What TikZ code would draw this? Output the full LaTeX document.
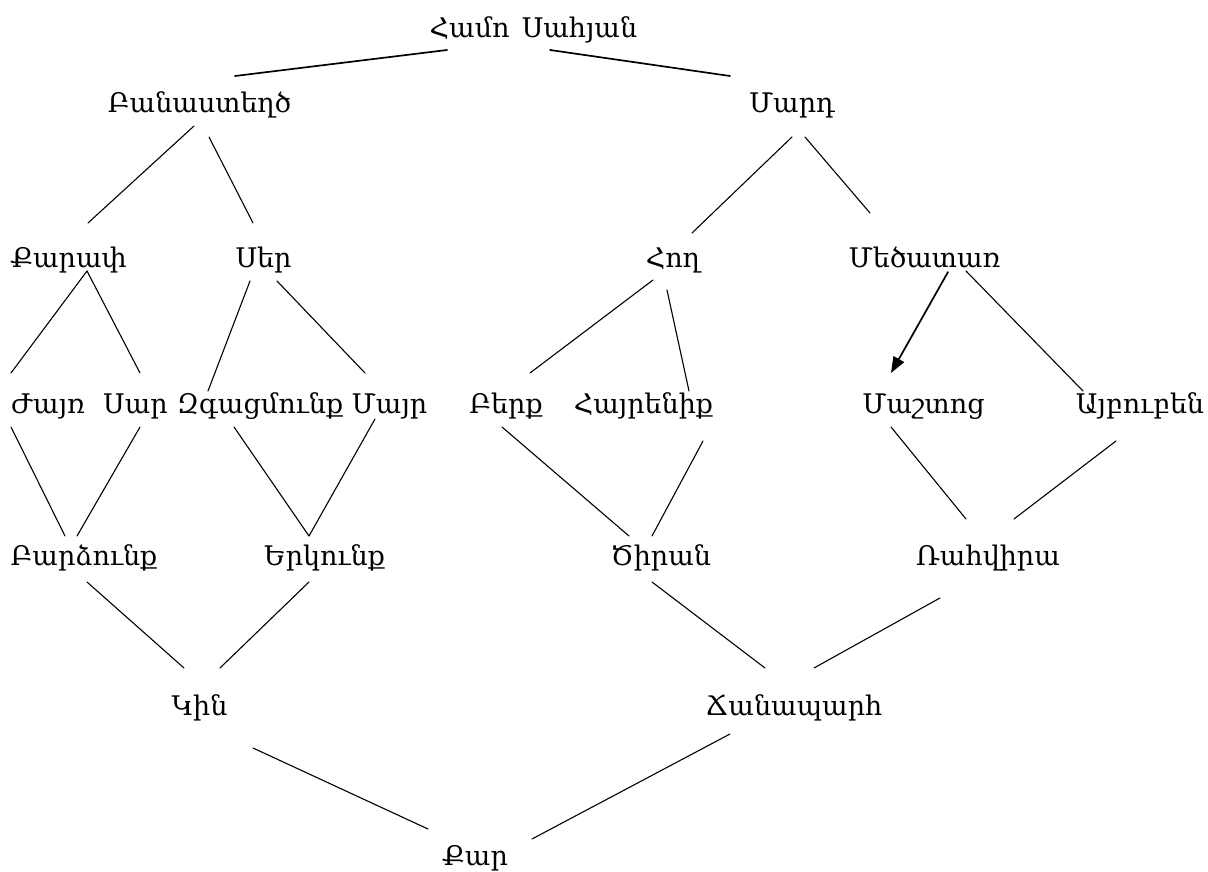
\documentclass[tikz,border=0pt]{standalone}
\usepackage{fontspec}
\setmainfont{DejaVu Serif}
\usetikzlibrary{arrows.meta}
\tikzset{
  word/.style={anchor=base, inner sep=0pt, font=\fontsize{27}{32}\selectfont},
  link/.style={line width=1.1pt, line cap=round},
  heavylink/.style={line width=1.7pt, line cap=round},
}
\newcommand\joinw[5][link]{\draw[#1] ([shift={#3}]#2.base) -- ([shift={#5}]#4.base);}
\begin{document}
\begin{tikzpicture}[x=1pt,y=-1pt]
\useasboundingbox (0,0) rectangle (1208,872);
\node[word] (hamo)  at (533.5,38) {Համո\hspace{0.45em}Սահյան};
\node[word] (bana)  at (199.5,113) {Բանաստեղծ};
\node[word] (mard)  at (792,113) {Մարդ};
\node[word] (qarap) at (68.5,267) {Քարափ};
\node[word] (ser)   at (263.5,267) {Սեր};
\node[word] (hogh)  at (673,267) {Հող};
\node[word] (mets)  at (924.5,267) {Մեծատառ};
\node[word] (zhayr) at (48,413) {Ժայռ};
\node[word] (sar)   at (135.5,413) {Սար};
\node[word] (zgats) at (260,413) {Զգացմունք};
\node[word] (mayr)  at (389.5,413) {Մայր};
\node[word] (berq)  at (506,413) {Բերք};
\node[word] (hayr)  at (643.5,413) {Հայրենիք};
\node[word] (masht) at (923.5,413) {Մաշտոց};
\node[word] (aybu)  at (1140,413) {Այբուբեն};
\node[word] (bardz) at (84,565) {Բարձունք};
\node[word] (yerk)  at (324.5,565) {Երկունք};
\node[word] (tsir)  at (661,565) {Ծիրան};
\node[word] (rah)   at (988,565) {Ռահվիրա};
\node[word] (kin)   at (199.5,715) {Կին};
\node[word] (chan)  at (794,715) {Ճանապարհ};
\node[word] (qar)   at (475,865) {Քար};
% connectors
\joinw[heavylink]{hamo}{(-86.5,12)}{bana}{(35.5,-37)}
\joinw[heavylink]{hamo}{(16.5,12)}{mard}{(-62,-37)}
\joinw{bana}{(-5.5,13)}{qarap}{(19.5,-44)}
\joinw{bana}{(9.5,24)}{ser}{(-10.5,-44)}
\joinw{mard}{(0,24)}{hogh}{(19,-34)}
\joinw{mard}{(13,24)}{mets}{(-54.5,-54)}
\joinw{qarap}{(18.5,4)}{zhayr}{(-37,-40)}
\joinw{qarap}{(18.5,4)}{sar}{(4.5,-40)}
\joinw{ser}{(-13.5,14)}{zgats}{(-52,-22)}
\joinw{ser}{(13.5,14)}{mayr}{(-24.5,-40)}
\joinw{hogh}{(-20,13)}{berq}{(24,-40)}
\joinw{hogh}{(-6,23)}{hayr}{(45.5,-22)}
\draw[heavylink,-{Triangle[length=16pt,width=12pt]}] ([shift={(23.5,5)}]mets.base) -- ([shift={(-32.5,-40)}]masht.base);
\joinw{mets}{(41.5,4)}{aybu}{(-57,-22)}
\joinw{zhayr}{(-37,14)}{bardz}{(-19,-29)}
\joinw{sar}{(4.5,14)}{bardz}{(-7,-29)}
\joinw{zgats}{(-26,14)}{yerk}{(-15.5,-29)}
\joinw{mayr}{(-14.5,6)}{yerk}{(-15.5,-29)}
\joinw{berq}{(-4,14)}{tsir}{(-32,-29)}
\joinw{hayr}{(59.5,28)}{tsir}{(-9,-29)}
\joinw{masht}{(-32.5,14)}{rah}{(-22,-46)}
\joinw{aybu}{(-24,28)}{rah}{(26,-46)}
\joinw{bardz}{(3,17)}{kin}{(-15.5,-47)}
\joinw{yerk}{(-15.5,17)}{kin}{(20.5,-47)}
\joinw{tsir}{(-9,17)}{chan}{(-29,-47)}
\joinw{rah}{(-48,33)}{chan}{(20,-47)}
\joinw{kin}{(53.5,33)}{qar}{(-47,-36)}
\joinw{chan}{(-64,19)}{qar}{(57,-26)}
\end{tikzpicture}
\end{document}
